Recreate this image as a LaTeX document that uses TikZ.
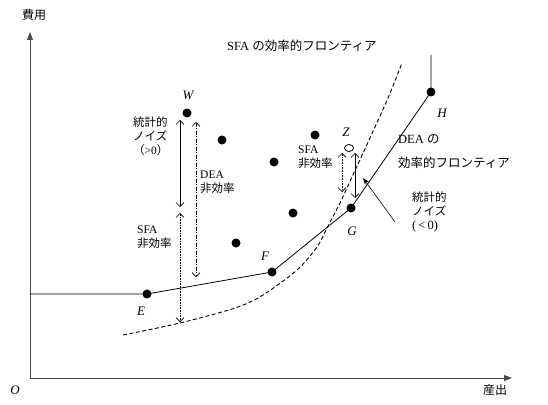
\documentclass[tikz,border=0pt]{standalone}
\usepackage{fontspec}
\setmainfont{Liberation Serif}
\newfontfamily\jpf{Noto Sans CJK JP}
\usetikzlibrary{arrows.meta,shapes.geometric}
\begin{document}
\begin{tikzpicture}[x=1pt,y=-1pt,
  dot/.style={circle,fill=black,inner sep=0pt,minimum size=9pt},
  lab/.style={font=\fontsize{11.5}{14}\selectfont, inner sep=0pt, align=left, anchor=base west},
  biglab/.style={font=\fontsize{12.5}{24}\selectfont, inner sep=0pt, align=left, anchor=base west},
  ptlab/.style={font=\fontsize{13}{14}\selectfont\itshape, inner sep=0pt},
  barb/.style={{Straight Barb[length=4pt,width=8pt]}-{Straight Barb[length=4pt,width=8pt]}, line width=0.6pt},
  axis/.style={-{Triangle[length=8pt,width=6pt]}, black!70, line width=0.9pt},
  dea/.style={line width=0.8pt},
  sfa/.style={line width=0.9pt, dash pattern=on 4pt off 2.5pt}]
\useasboundingbox (0,0) rectangle (548,404);
% axes
\coordinate (O) at (30,378);
\coordinate (ytop) at (30,32);
\coordinate (xend) at (512,378);
\draw[axis] (O) -- (ytop);
\draw[axis] (O) -- (xend);
\node[font=\fontsize{12}{12}\selectfont\jpf, inner sep=0pt] (ylab) at (34,15) {費用};
\node[font=\fontsize{12}{12}\selectfont\jpf, inner sep=0pt] (xlab) at (495,390) {産出};
\node[ptlab] (olab) at (15,390) {O};
% DEA frontier
\coordinate (left) at (30,294);
\node[dot] (E) at (147,294) {};
\node[dot] (F) at (272,272) {};
\node[dot] (G) at (351,208) {};
\node[dot] (H) at (431,92) {};
\coordinate (Htop) at (431,55);
\draw[dea] (left) -- (E.center) -- (F.center) -- (G.center) -- (H.center) -- (Htop);
\node[ptlab] (Elab) at (141,311) {E};
\node[ptlab] (Flab) at (265,256) {F};
\node[ptlab] (Glab) at (352,231) {G};
\node[ptlab] (Hlab) at (442,113) {H};
% SFA frontier
\draw[sfa] plot[smooth, tension=0.5] coordinates {(123,335) (180,323) (235,308) (263,295) (297,270) (317,247) (327,228) (340,203) (352,177) (370,138) (388,98) (402,63)};
\node[biglab] (sfalab) at (227,50) {SFA {\jpf の効率的フロンティア}};
% data points
\node[dot] (W) at (187,113) {};
\node[ptlab] (Wlab) at (188,95) {W};
\node[dot] (p1) at (222,140) {};
\node[dot] (p2) at (274,162) {};
\node[dot] (p3) at (315,135) {};
\node[dot] (p4) at (293,213) {};
\node[dot] (p5) at (236,243) {};
\node[draw, ellipse, line width=0.8pt, minimum width=9pt, minimum height=7pt, inner sep=0pt] (Z) at (349,148) {};
\node[ptlab] (Zlab) at (346,132) {Z};
% left arrows
\coordinate (a1) at (180,120); \coordinate (a2) at (180,207);
\coordinate (b1) at (180,213); \coordinate (b2) at (180,322);
\coordinate (c1) at (196,122); \coordinate (c2) at (196,277);
\draw[barb] (a1) -- (a2);
\draw[barb, densely dotted] (b1) -- (b2);
\draw[barb, dash pattern=on 4pt off 1.5pt on 1pt off 1.5pt] (c1) -- (c2);
\node[lab] (noise1) at (133,154) {\jpf 統計的\\\jpf ノイズ\\\jpf （{\rmfamily >0}）};
\node[lab] (dea1) at (200,192) {DEA\\\jpf 非効率};
\node[lab] (sfa1) at (137,247) {SFA\\\jpf 非効率};
% right arrows
\coordinate (d1) at (342,153); \coordinate (d2) at (342,192);
\coordinate (e1) at (355,153); \coordinate (e2) at (355,198);
\draw[barb, densely dotted] (d1) -- (d2);
\draw[barb] (e1) -- (e2);
\node[lab] (sfa2) at (298,167) {SFA\\\jpf 非効率};
\node[biglab] (dealab) at (398,167) {DEA {\jpf の}\\\jpf 効率的フロンティア};
\node[lab] (noise2) at (412,229) {\jpf 統計的\\\jpf ノイズ\\{\fontsize{12.5}{14}\selectfont (\,<\,0)}};
\coordinate (ptr) at (395,222);
\coordinate (ptrend) at (363,178);
\draw[-{Stealth[length=7pt,width=5pt]}, line width=0.6pt] (ptr) -- (ptrend);
\end{tikzpicture}
\end{document}
